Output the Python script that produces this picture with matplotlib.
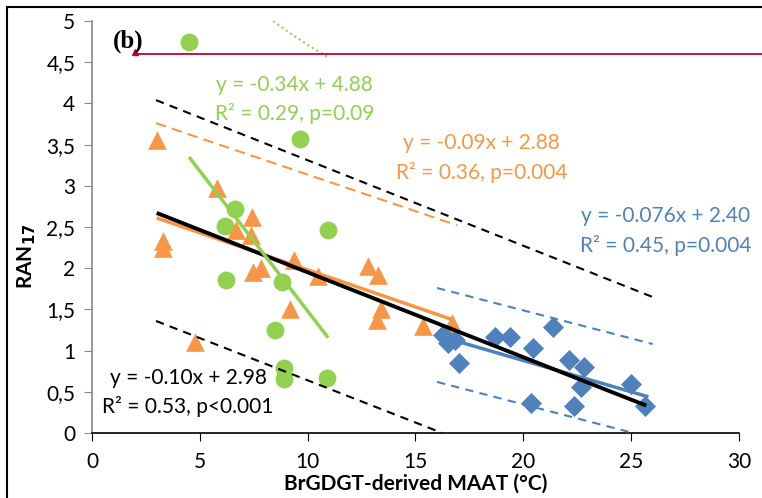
import numpy as np
import matplotlib
matplotlib.use("Agg")
import matplotlib.pyplot as plt
from matplotlib.patches import Rectangle

plt.rcParams['font.family'] = ['Lato', 'DejaVu Sans']

# green circles
green_x = [4.5, 9.65, 6.64, 6.17, 10.95, 6.22, 8.82, 8.49, 8.9, 8.9, 10.9]
green_y = [4.75, 3.57, 2.72, 2.51, 2.46, 1.86, 1.83, 1.25, 0.79, 0.66, 0.67]

# orange triangles
orange_x = [3.0, 5.8, 7.42, 6.7, 7.38, 3.3, 3.3, 7.47, 7.84, 9.37, 10.5, 9.19,
            12.8, 13.27, 13.4, 13.2, 15.36, 16.7, 4.8]
orange_y = [3.56, 2.97, 2.62, 2.46, 2.40, 2.33, 2.25, 1.95, 2.0, 2.1, 1.9, 1.5,
            2.03, 1.92, 1.5, 1.37, 1.3, 1.33, 1.1]

# blue diamonds
blue_x = [16.29, 16.52, 16.84, 17.03, 18.7, 19.4, 20.46, 21.39, 22.13, 22.83,
          22.69, 20.37, 22.37, 24.97, 25.66]
blue_y = [1.19, 1.09, 1.13, 0.85, 1.17, 1.17, 1.03, 1.29, 0.89, 0.80,
          0.56, 0.36, 0.33, 0.59, 0.33]

# regression lines (slope, intercept, x range)
fit_green = (-0.34, 4.88, 4.5, 10.95)
fit_orange = (-0.09, 2.88, 3.0, 16.7)
fit_blue = (-0.076, 2.40, 16.3, 25.8)
fit_all = (-0.103, 2.98, 3.0, 25.7)

# prediction bands
band_black_up_x, band_black_up_y = [2.97, 26.0], [4.04, 1.65]
band_black_lo_x, band_black_lo_y = [2.97, 16.24], [1.36, 0.0]
band_orange_x, band_orange_y = [2.97, 16.94], [3.76, 2.52]
band_blue_up_x, band_blue_up_y = [16.0, 26.0], [1.76, 1.08]
band_blue_lo_x, band_blue_lo_y = [16.0, 25.1], [0.62, 0.0]
band_green_x = [8.4, 9.2, 10.0, 10.95]
band_green_y = [5.0, 4.85, 4.71, 4.56]

GREEN = '#92D050'
ORANGE = '#F79646'
BLUE = '#4F81BD'
RED = '#C0003C'

fig = plt.figure(figsize=(7.62, 4.98), dpi=100)
ax = fig.add_axes([0.1207, 0.1305, 0.8491, 0.8273])

ax.scatter(green_x, green_y, s=165, marker='o', color=GREEN, zorder=2, linewidths=0)
ax.scatter(orange_x, orange_y, s=180, marker='^', color=ORANGE, zorder=2, linewidths=0)
ax.scatter(blue_x, blue_y, s=115, marker='D', color=BLUE, zorder=2, linewidths=0)

ax.plot(band_black_up_x, band_black_up_y, color='black', lw=1.5, ls=(0, (4, 3)), zorder=3)
ax.plot(band_black_lo_x, band_black_lo_y, color='black', lw=1.5, ls=(0, (4, 3)), zorder=3)
ax.plot(band_orange_x, band_orange_y, color=ORANGE, lw=1.5, ls=(0, (5, 3)), zorder=3)
ax.plot(band_blue_up_x, band_blue_up_y, color=BLUE, lw=1.5, ls=(0, (4, 3)), zorder=3)
ax.plot(band_blue_lo_x, band_blue_lo_y, color=BLUE, lw=1.5, ls=(0, (4, 3)), zorder=3)
ax.plot(band_green_x, band_green_y, color=GREEN, lw=1.5, ls=(0, (1, 1.5)), zorder=3)

for (m, b, x0, x1), c, lw, z in [(fit_orange, ORANGE, 2.5, 4), (fit_all, 'black', 2.8, 5),
                                 (fit_blue, BLUE, 2.5, 4), (fit_green, GREEN, 2.5, 6)]:
    xs = np.array([x0, x1])
    ax.plot(xs, m * xs + b, color=c, lw=lw, zorder=z, solid_capstyle='butt')

# stray red line with marker
ax.plot([2.0, 31.2], [4.6, 4.6], color=RED, lw=1.3, clip_on=False, zorder=3)
ax.plot([2.0], [4.62], marker='^', color=RED, ms=5, clip_on=False, zorder=3)

ax.text(0.95, 4.76, '(b)', family='Liberation Serif', fontweight='bold', fontsize=18,
        va='center', ha='left')
ax.text(9.4, 4.05, 'y = -0.34x + 4.88\nR² = 0.29, p=0.09', color=GREEN, fontsize=15,
        ha='center', va='center', linespacing=1.5)
ax.text(18.05, 3.34, 'y = -0.09x + 2.88\nR² = 0.36, p=0.004', color=ORANGE, fontsize=15,
        ha='center', va='center', linespacing=1.5)
ax.text(26.6, 2.45, 'y = -0.076x + 2.40\nR² = 0.45, p=0.004', color=BLUE, fontsize=15,
        ha='center', va='center', linespacing=1.5)
ax.text(4.45, 0.49, 'y = -0.10x + 2.98\nR² = 0.53, p<0.001', color='black', fontsize=15,
        ha='center', va='center', linespacing=1.5)

ax.set_xlim(0, 30)
ax.set_ylim(0, 5)
xticks = [0, 5, 10, 15, 20, 25, 30]
yticks = [0, 0.5, 1, 1.5, 2, 2.5, 3, 3.5, 4, 4.5, 5]
ax.set_xticks(xticks)
ax.set_yticks(yticks)
ax.set_xticklabels([str(t) for t in xticks])
ax.set_yticklabels([('%g' % t).replace('.', ',') for t in yticks])
ax.tick_params(axis='both', labelsize=15, direction='out', length=6)
ax.tick_params(axis='y', color='#888888', pad=6)
ax.tick_params(axis='x', color='black', pad=8)

for s in ['top', 'right']:
    ax.spines[s].set_visible(False)
ax.spines['left'].set_color('#888888')
ax.spines['left'].set_linewidth(1.2)
ax.spines['bottom'].set_linewidth(1.2)

ax.set_xlabel('BrGDGT-derived MAAT (°C)', fontsize=15, fontweight='bold', labelpad=1)
ax.set_ylabel('RAN$_{\\mathbf{17}}$', fontsize=15, fontweight='bold')
ax.yaxis.set_label_coords(-0.083, 0.43)

# outer frame
fig.add_artist(Rectangle((7 / 762, -0.2), 1.2, 1.2 - 7 / 498, transform=fig.transFigure,
                         fill=False, lw=1.5, edgecolor='black'))

fig.savefig('out.png', dpi=100)
